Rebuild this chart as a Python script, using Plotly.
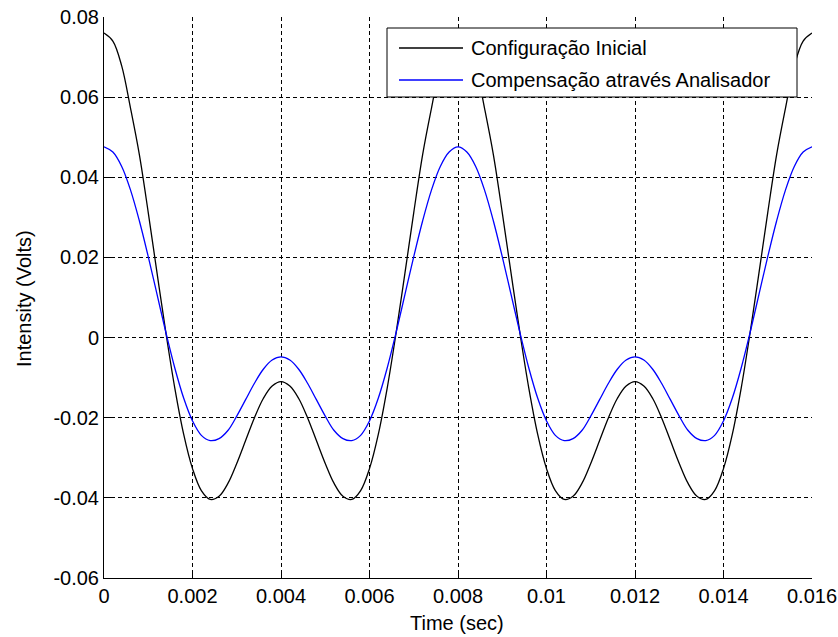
import plotly.graph_objects as go

# Time samples (sec)
time_s = [0.0000, 0.0002, 0.0004, 0.0006, 0.0008, 0.0010, 0.0012, 0.0014, 0.0016, 0.0018,
          0.0020, 0.0022, 0.0024, 0.0026, 0.0028, 0.0030, 0.0032, 0.0034, 0.0036, 0.0038,
          0.0040, 0.0042, 0.0044, 0.0046, 0.0048, 0.0050, 0.0052, 0.0054, 0.0056, 0.0058,
          0.0060, 0.0062, 0.0064, 0.0066, 0.0068, 0.0070, 0.0072, 0.0074, 0.0076, 0.0078,
          0.0080, 0.0082, 0.0084, 0.0086, 0.0088, 0.0090, 0.0092, 0.0094, 0.0096, 0.0098,
          0.0100, 0.0102, 0.0104, 0.0106, 0.0108, 0.0110, 0.0112, 0.0114, 0.0116, 0.0118,
          0.0120, 0.0122, 0.0124, 0.0126, 0.0128, 0.0130, 0.0132, 0.0134, 0.0136, 0.0138,
          0.0140, 0.0142, 0.0144, 0.0146, 0.0148, 0.0150, 0.0152, 0.0154, 0.0156, 0.0158,
          0.0160]

# "Configuração Inicial" (black)
config_inicial = [
    0.0760, 0.0740, 0.0678, 0.0572, 0.0456, 0.0312, 0.0160, 0.0011, -0.0126, -0.0241,
    -0.0327, -0.0382, -0.0404, -0.0396, -0.0364, -0.0314, -0.0257, -0.0200, -0.0152, -0.0121,
    -0.0110, -0.0121, -0.0152, -0.0200, -0.0257, -0.0314, -0.0364, -0.0396, -0.0404, -0.0382,
    -0.0327, -0.0241, -0.0126, 0.0011, 0.0160, 0.0312, 0.0456, 0.0572, 0.0678, 0.0740,
    0.0760, 0.0740, 0.0678, 0.0572, 0.0456, 0.0312, 0.0160, 0.0011, -0.0126, -0.0241,
    -0.0327, -0.0382, -0.0404, -0.0396, -0.0364, -0.0314, -0.0257, -0.0200, -0.0152, -0.0121,
    -0.0110, -0.0121, -0.0152, -0.0200, -0.0257, -0.0314, -0.0364, -0.0396, -0.0404, -0.0382,
    -0.0327, -0.0241, -0.0126, 0.0011, 0.0160, 0.0312, 0.0456, 0.0572, 0.0678, 0.0740,
    0.0760]

# "Compensação através Analisador" (blue)
compensacao = [
    0.0476, 0.0463, 0.0427, 0.0368, 0.0291, 0.0202, 0.0107, 0.0012, -0.0076, -0.0151,
    -0.0208, -0.0244, -0.0257, -0.0252, -0.0232, -0.0196, -0.0155, -0.0114, -0.0079, -0.0056,
    -0.0048, -0.0056, -0.0079, -0.0114, -0.0155, -0.0196, -0.0232, -0.0252, -0.0257, -0.0244,
    -0.0208, -0.0151, -0.0076, 0.0012, 0.0107, 0.0202, 0.0291, 0.0368, 0.0427, 0.0463,
    0.0476, 0.0463, 0.0427, 0.0368, 0.0291, 0.0202, 0.0107, 0.0012, -0.0076, -0.0151,
    -0.0208, -0.0244, -0.0257, -0.0252, -0.0232, -0.0196, -0.0155, -0.0114, -0.0079, -0.0056,
    -0.0048, -0.0056, -0.0079, -0.0114, -0.0155, -0.0196, -0.0232, -0.0252, -0.0257, -0.0244,
    -0.0208, -0.0151, -0.0076, 0.0012, 0.0107, 0.0202, 0.0291, 0.0368, 0.0427, 0.0463,
    0.0476]

series_names = ["Configuração Inicial", "Compensação através Analisador"]
series_colors = ["#000000", "#0000FF"]

x_tickvals = [0, 0.002, 0.004, 0.006, 0.008, 0.010, 0.012, 0.014, 0.016]
x_ticktext = ["0", "0.002", "0.004", "0.006", "0.008", "0.01", "0.012", "0.014", "0.016"]
y_tickvals = [-0.06, -0.04, -0.02, 0, 0.02, 0.04, 0.06, 0.08]
y_ticktext = ["-0.06", "-0.04", "-0.02", "0", "0.02", "0.04", "0.06", "0.08"]

FONT = "Liberation Sans, Arial, Helvetica, sans-serif"

fig = go.Figure()
for name, ys, col in zip(series_names, [config_inicial, compensacao], series_colors):
    fig.add_trace(go.Scatter(x=time_s, y=ys, mode="lines", name=name,
                             line=dict(color=col, width=1.3, shape="spline"),
                             showlegend=False))

grid = dict(showgrid=True, gridcolor="#000000", gridwidth=1, griddash="4px,3px",
            zeroline=False, showline=True, linecolor="#000000", linewidth=1,
            ticks="inside", ticklen=7, tickcolor="#000000", mirror=False,
            automargin=False,
            tickfont=dict(family=FONT, size=20, color="#000000"))

fig.update_xaxes(range=[0, 0.016], tickvals=x_tickvals, ticktext=x_ticktext, **grid)
fig.update_yaxes(range=[-0.06, 0.08], tickvals=y_tickvals, ticktext=y_ticktext, **grid)

# Plot-area geometry in px, used to place legend elements in paper coords
L, T, W, H = 104, 17, 708, 561
def px(x):
    return (x - L) / W
def py(y):
    return (T + H - y) / H

shapes = [dict(type="rect", xref="paper", yref="paper", layer="above",
               x0=px(387), x1=px(797), y0=py(97), y1=py(28),
               line=dict(color="#000000", width=1), fillcolor="#FFFFFF")]
annotations = []
for i, (name, col) in enumerate(zip(series_names, series_colors)):
    yy = 48 + 32 * i
    shapes.append(dict(type="line", xref="paper", yref="paper", layer="above",
                       x0=px(399), x1=px(463), y0=py(yy), y1=py(yy),
                       line=dict(color=col, width=1.3)))
    annotations.append(dict(text=name, xref="paper", yref="paper", x=px(470), y=py(yy),
                            xanchor="left", yanchor="middle", showarrow=False,
                            borderpad=0, font=dict(family=FONT, size=20, color="#000000")))

annotations.append(dict(text="Time (sec)", xref="paper", yref="paper",
                        x=px(457), y=py(623), xanchor="center", yanchor="middle",
                        showarrow=False, borderpad=0,
                        font=dict(family=FONT, size=20, color="#000000")))
annotations.append(dict(text="Intensity (Volts)", xref="paper", yref="paper",
                        x=px(24), y=py(299), xanchor="center", yanchor="middle",
                        textangle=-90, showarrow=False, borderpad=0,
                        font=dict(family=FONT, size=20, color="#000000")))

fig.update_layout(width=838, height=637,
                  margin=dict(l=L, r=838 - L - W, t=T, b=637 - T - H, autoexpand=False),
                  paper_bgcolor="#FFFFFF", plot_bgcolor="#FFFFFF",
                  shapes=shapes, annotations=annotations, showlegend=False,
                  font=dict(family=FONT, size=20, color="#000000"))

fig.write_html("out.html")
